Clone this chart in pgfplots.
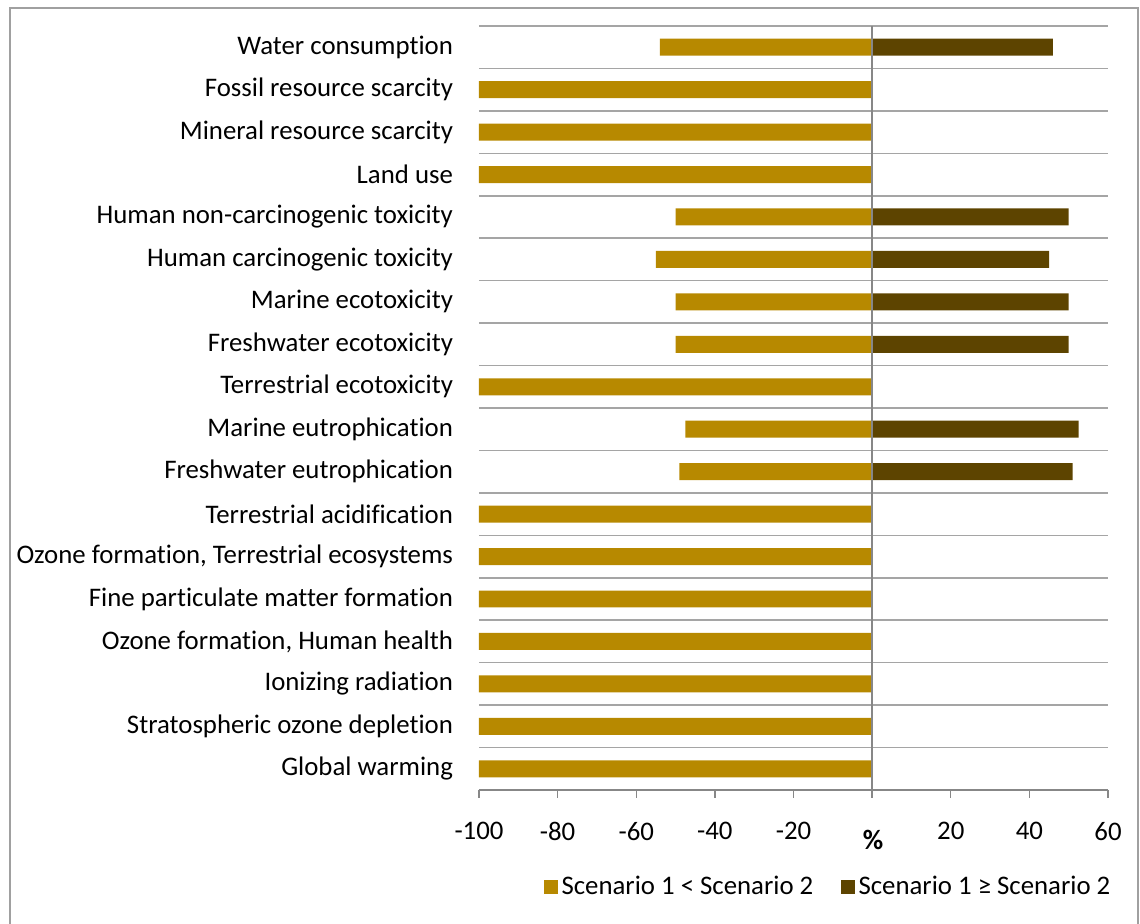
\documentclass[border=0pt]{standalone}
\usepackage{fontspec}
\setmainfont{Carlito}[Ligatures=NoCommon]
\usepackage{pgfplots}
\pgfplotsset{compat=1.18}

\definecolor{lowbar}{RGB}{183,137,0}
\definecolor{highbar}{RGB}{93,68,0}
\definecolor{gridgray}{RGB}{165,165,165}
\definecolor{zerogray}{RGB}{135,135,135}
\definecolor{framegray}{RGB}{160,160,160}

\newcommand{\chartfont}{\fontsize{13.4}{16}\selectfont}

\begin{document}
\begin{tikzpicture}[font=\chartfont]
\useasboundingbox (0,0) rectangle (570pt,462pt);
% chart frame (open at the bottom)
\draw[framegray, line width=0.6pt] (5pt,-2pt) -- (5pt,458pt) -- (569pt,458pt) -- (569pt,-2pt);

\begin{axis}[
  at={(239.5pt,67pt)}, anchor=south west,
  scale only axis,
  width=314.5pt, height=382pt,
  xmin=-100, xmax=60,
  ymin=-0.5, ymax=17.5,
  xbar, bar width=0.4, bar shift=0pt,
  axis x line*=bottom, axis y line*=left,
  x axis line style={zerogray, line width=0.7pt},
  y axis line style={draw=none},
  xtick={-100,-80,-60,-40,-20,0,20,40,60},
  xticklabels={-100,-80,-60,-40,-20,,20,40,60},
  tick align=outside,
  major tick length=4pt,
  x tick style={zerogray, line width=0.7pt},
  ytick={0,...,17},
  yticklabels={Global warming,Stratospheric ozone depletion,Ionizing radiation,
    {Ozone formation, Human health},Fine particulate matter formation,
    {Ozone formation, Terrestrial ecosystems},Terrestrial acidification,
    Freshwater eutrophication,Marine eutrophication,Terrestrial ecotoxicity,
    Freshwater ecotoxicity,Marine ecotoxicity,Human carcinogenic toxicity,
    Human non-carcinogenic toxicity,Land use,Mineral resource scarcity,
    Fossil resource scarcity,Water consumption},
  y tick style={draw=none},
  yticklabel style={xshift=-5.5pt},
  minor ytick={-0.5,0.5,...,17.5},
  minor y tick style={draw=none},
  yminorgrids=true,
  minor grid style={gridgray, line width=0.75pt},
  xticklabel style={yshift=-8.5pt},
  legend columns=2,
  legend style={at={(0.557,-0.127)}, anchor=center, draw=none, fill=none,
    font=\chartfont,
    /tikz/every even column/.append style={column sep=12pt}},
  legend image code/.code={\fill[#1] (0pt,-3.3pt) rectangle (6.6pt,3.3pt);},
]
% Scenario 1 < Scenario 2
\addplot[fill=lowbar, draw=none] coordinates {
  (-100,0) (-100,1) (-100,2) (-100,3) (-100,4) (-100,5) (-100,6)
  (-49,7) (-47.5,8) (-100,9) (-50,10) (-50,11) (-55,12) (-50,13)
  (-100,14) (-100,15) (-100,16) (-54,17)
};
\addlegendentry{Scenario 1 < Scenario 2}
% Scenario 1 >= Scenario 2
\addplot[fill=highbar, draw=none] coordinates {
  (51,7) (52.5,8) (50,10) (50,11) (45,12) (50,13) (46,17)
};
\addlegendentry{Scenario 1 ≥ Scenario 2}
% zero line
\draw[zerogray, line width=0.7pt] (axis cs:0,-0.5) -- (axis cs:0,17.5);
\end{axis}
\node[font=\fontsize{14}{16}\selectfont\bfseries] at (436.5pt,42pt) {\%};
\end{tikzpicture}
\end{document}
